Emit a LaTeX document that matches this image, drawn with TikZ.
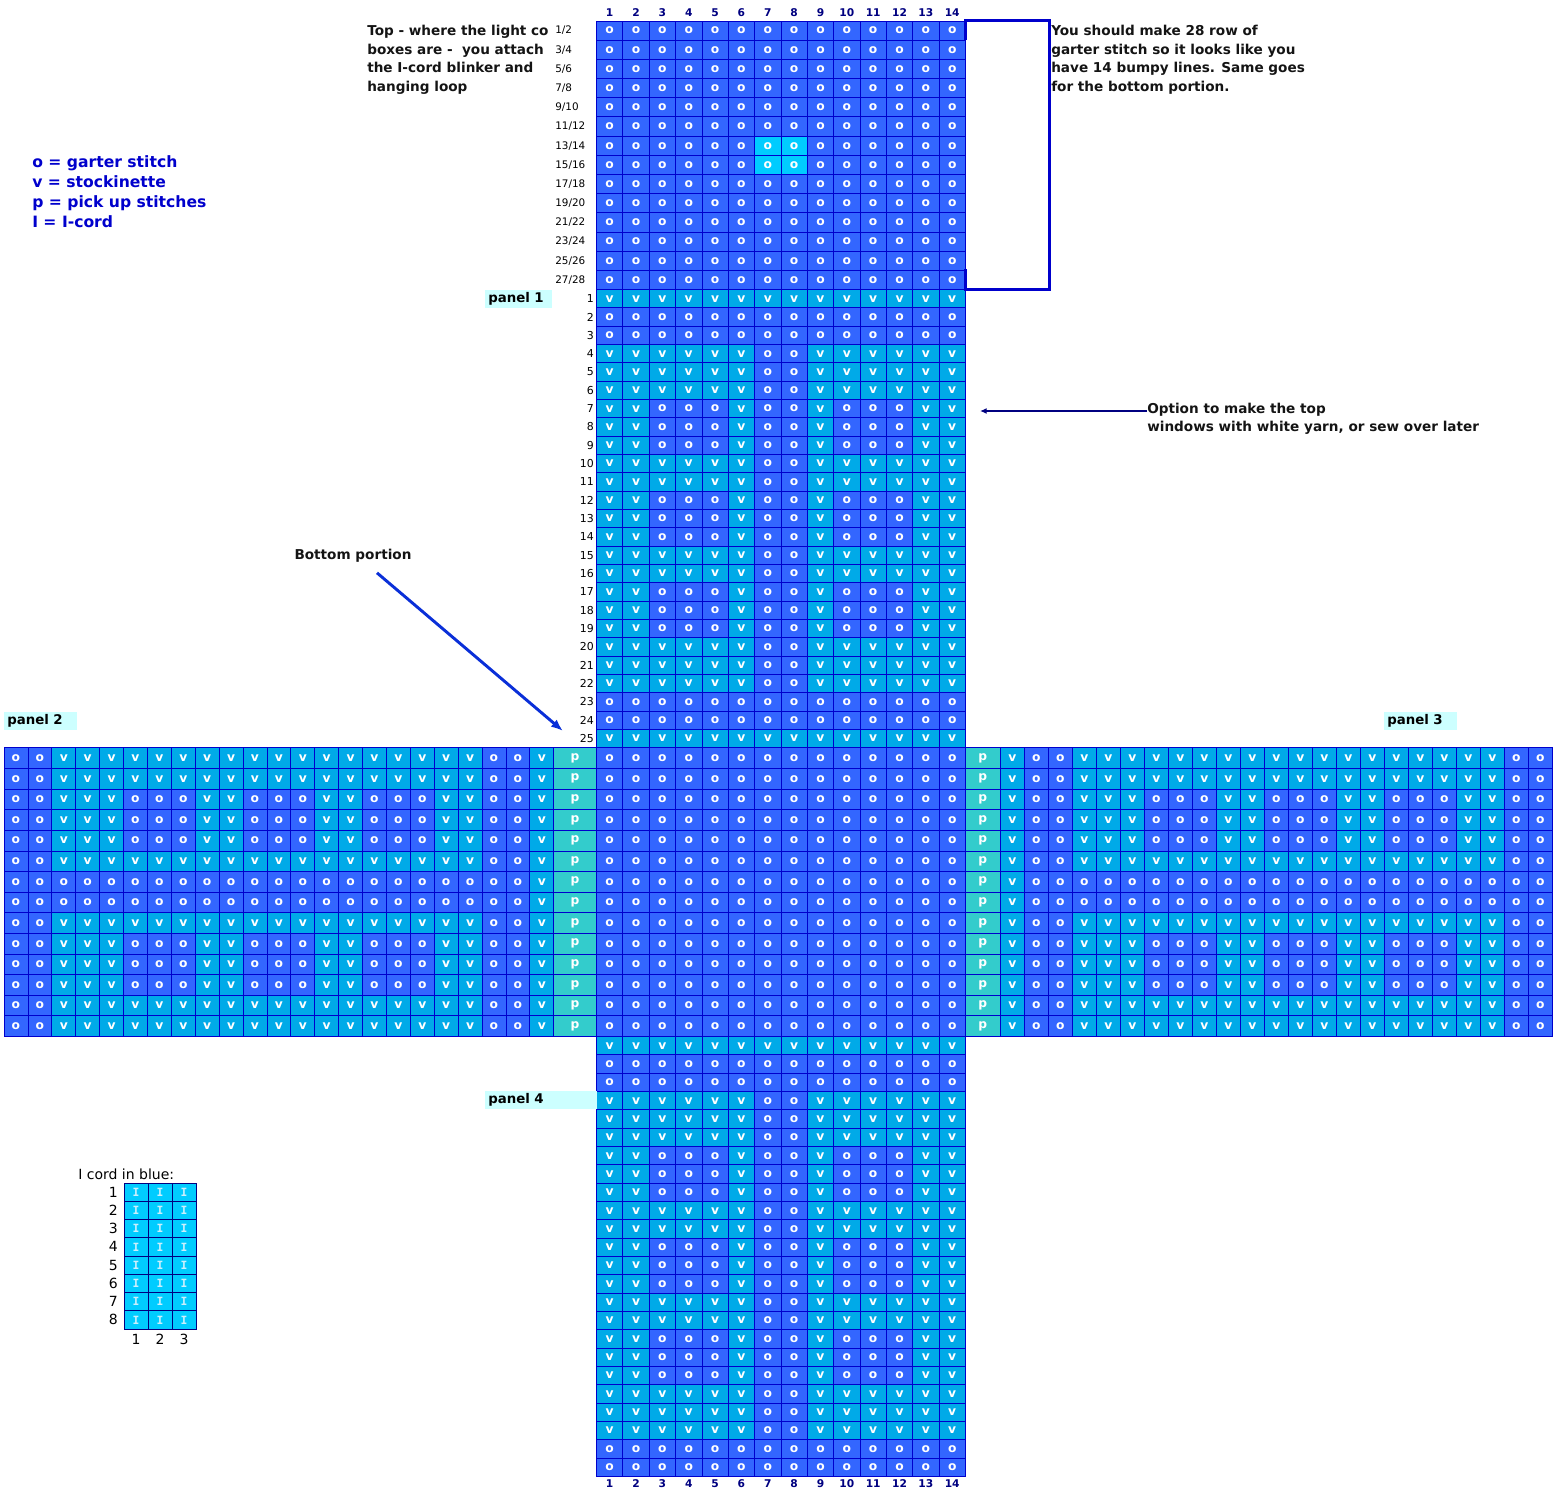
\documentclass[tikz,border=0pt]{standalone}
\usepackage{fontspec}
\setmainfont{DejaVu Sans}
\newfontfamily\slabfont{DejaVu Sans Mono}
\usetikzlibrary{arrows.meta,positioning,calc}

\definecolor{garter}{HTML}{3366FF}
\definecolor{stocking}{HTML}{00AAE8}
\definecolor{pickup}{HTML}{33CCCC}
\definecolor{lightsq}{HTML}{00CCFF}
\definecolor{gridline}{HTML}{0000CC}
\definecolor{navy}{HTML}{000080}
\definecolor{labelbg}{HTML}{CCFFFF}
\definecolor{legblue}{HTML}{0000CC}
\definecolor{arrowblue}{HTML}{0A2FD8}
\colorlet{colo}{garter}
\colorlet{colv}{stocking}
\colorlet{colp}{pickup}
\colorlet{colc}{lightsq}

% glyph printed in each kind of square
\def\glypho{o}\def\glyphv{v}\def\glyphp{p}\def\glyphc{o}

% rows of the centre strip
\def\rowO{o,o,o,o,o,o,o,o,o,o,o,o,o,o}
\def\rowV{v,v,v,v,v,v,v,v,v,v,v,v,v,v}
\def\rowF{v,v,v,v,v,v,o,o,v,v,v,v,v,v}
\def\rowW{v,v,o,o,o,v,o,o,v,o,o,o,v,v}
\def\rowC{o,o,o,o,o,o,c,c,o,o,o,o,o,o}
% rows of the side panels
\def\rowLF{o,o,v,v,v,v,v,v,v,v,v,v,v,v,v,v,v,v,v,v,o,o,v}
\def\rowLW{o,o,v,v,v,o,o,o,v,v,o,o,o,v,v,o,o,o,v,v,o,o,v}
\def\rowLO{o,o,o,o,o,o,o,o,o,o,o,o,o,o,o,o,o,o,o,o,o,o,v}
\def\rowRF{v,o,o,v,v,v,v,v,v,v,v,v,v,v,v,v,v,v,v,v,v,o,o}
\def\rowRW{v,o,o,v,v,v,o,o,o,v,v,o,o,o,v,v,o,o,o,v,v,o,o}
\def\rowRO{v,o,o,o,o,o,o,o,o,o,o,o,o,o,o,o,o,o,o,o,o,o,o}

\tikzset{
  cell/.style={draw=gridline, line width=0.6pt, inner sep=0pt, text=white, font=\fontsize{9.2}{9}\selectfont\bfseries},
  cellst/.style={fill=col#1},
  colnum/.style={text=navy, font=\fontsize{8}{9}\selectfont\bfseries, inner sep=0pt},
  rownum/.style={font=\fontsize{8.2}{9}\selectfont, inner sep=0pt},
  note/.style={font=\fontsize{10.2}{14}\selectfont\bfseries, align=left, inner sep=0pt, text=black!92},
  panellab/.style={fill=labelbg, font=\fontsize{10}{11}\selectfont\bfseries, inner xsep=2.25pt, inner ysep=0pt, minimum height=13.5pt, align=left},
  icell/.style={draw=navy, line width=0.6pt, fill=lightsq, inner sep=0pt, text=white!80!cyan, font=\slabfont\fontsize{8.5}{9}\selectfont\bfseries, minimum width=18pt, minimum height=13.7pt},
}

% name, x0, y0, cell width, cell height, row kinds
\newcommand{\knitblock}[6]{%
  \foreach \rw [count=\r] in {#6} {
    \edef\currow{\csname row\rw\endcsname}
    \foreach \s [count=\c] in \currow {
      \node[cell, cellst=\s, minimum width=#4*0.75pt, minimum height=#5*0.75pt]
        (#1-\r-\c) at ({#2+(\c-0.5)*#4},{#3+(\r-0.5)*#5}) {\csname glyph\s\endcsname};
    }
  }}

\begin{document}
\begin{tikzpicture}[x=0.75pt, y=-0.75pt]
  \useasboundingbox (0,0) rectangle (1562,1491);

  % centre strip
  \knitblock{top}{596.5}{21}{26.35}{19.18}{O,O,O,O,O,O,C,C,O,O,O,O,O,O}
  \knitblock{pone}{596.5}{289.5}{26.35}{18.33}{V,O,O,F,F,F,W,W,W,F,F,W,W,W,F,F,W,W,W,F,F,F,O,O,V}
  \knitblock{mid}{596.5}{747.8}{26.35}{20.62}{O,O,O,O,O,O,O,O,O,O,O,O,O,O}
  \knitblock{pfour}{596.5}{1036.5}{26.35}{18.33}{V,O,O,F,F,F,W,W,W,F,F,W,W,W,F,F,W,W,W,F,F,F,O,O}

  % side panels
  \knitblock{ptwo}{4}{747.8}{23.9}{20.62}{LF,LF,LW,LW,LW,LF,LO,LO,LF,LW,LW,LW,LF,LF}
  \knitblock{pthree}{1000.3}{747.8}{24}{20.62}{RF,RF,RW,RW,RW,RF,RO,RO,RF,RW,RW,RW,RF,RF}
  \foreach \r in {1,...,14} {
    \node[cell, cellst=p, minimum width=42.9*0.75pt, minimum height=20.62*0.75pt] (lp-\r) at (575.05,{747.8+(\r-0.5)*20.62}) {p};
    \node[cell, cellst=p, minimum width=34.9*0.75pt, minimum height=20.62*0.75pt] (rp-\r) at (982.85,{747.8+(\r-0.5)*20.62}) {p};
  }

  % column and row numbers
  \foreach \c in {1,...,14} {
    \node[colnum] (tn-\c) at ({596.5+(\c-0.5)*26.35},13) {\c};
    \node[colnum] (bn-\c) at ({596.5+(\c-0.5)*26.35},1484) {\c};
  }
  \foreach \r in {1,...,14} {
    \pgfmathtruncatemacro\ra{2*\r-1}
    \pgfmathtruncatemacro\rb{2*\r}
    \node[rownum, font=\fontsize{7.8}{9}\selectfont, anchor=west] (tl-\r) at (555,{21+(\r-0.5)*19.18}) {\ra/\rb};
  }
  \foreach \r in {1,...,25}
    \node[rownum, anchor=east] (pl-\r) at (594,{289.5+(\r-0.5)*18.33}) {\r};

  % bracket round the top rows
  \draw[gridline, line width=2.25pt, line join=miter] (965.5,40) -- (965.5,21) -- (1049,21) -- (1049,289) -- (965.5,289) -- (965.5,269);

  % panel labels
  \node[panellab, text width=45.75pt, anchor=west] (lab1) at (485,299) {panel 1};
  \node[panellab, text width=50.25pt, anchor=west] (lab2) at (4,721) {panel 2};
  \node[panellab, text width=50.25pt, anchor=west] (lab3) at (1384,721) {panel 3};
  \node[panellab, text width=79.5pt, anchor=west] (lab4) at (485,1100) {panel 4};

  % notes
  \node[note, anchor=north west] (topnote) at (367,25) {Top - where the light co\\boxes are - \ you attach\\the I-cord blinker and\\hanging loop};
  \node[note, anchor=north west] (rownote) at (1051,25) {You should make 28 row of\\garter stitch so it looks like you\\have 14 bumpy lines. Same goes\\for the bottom portion.};
  \node[note, font=\fontsize{11.7}{15.2}\selectfont\bfseries, text=legblue, anchor=north west] (legend) at (32,155) {o = garter stitch\\v = stockinette\\p = pick up stitches\\I = I-cord};
  \node[note, font=\fontsize{10.2}{13.5}\selectfont\bfseries, anchor=north west] (opt) at (1147,403) {Option to make the top\\windows with white yarn, or sew over later};
  \node[note] (btm) at (353,556) {Bottom portion};

  \coordinate (opttip) at (980,411);
  \coordinate (btmtip) at (563,731);
  \draw[navy, line width=1.5pt, -{Latex[length=5pt,width=4.5pt]}] ($(opt.north west)+(0,8)$) -- (opttip);
  \draw[arrowblue, line width=2.2pt, -{Latex[length=9pt,width=7pt]}] ($(btm.south)+(24,10)$) -- (btmtip);

  % I-cord chart
  \node[rownum, font=\fontsize{10.5}{12}\selectfont, anchor=west] (icap) at (78,1174) {I cord in blue:};
  \foreach \r in {1,...,8} {
    \foreach \c in {1,2,3}
      \node[icell] (ic-\r-\c) at ({124+(\c-0.5)*24},{1183+(\r-0.5)*18.25}) {I};
    \node[rownum, font=\fontsize{10.5}{12}\selectfont, anchor=east] (ir-\r) at (118,{1183+(\r-0.5)*18.25}) {\r};
  }
  \foreach \c in {1,2,3}
    \node[rownum, font=\fontsize{10.5}{12}\selectfont] (icn-\c) at ({124+(\c-0.5)*24},1339) {\c};
\end{tikzpicture}
\end{document}
